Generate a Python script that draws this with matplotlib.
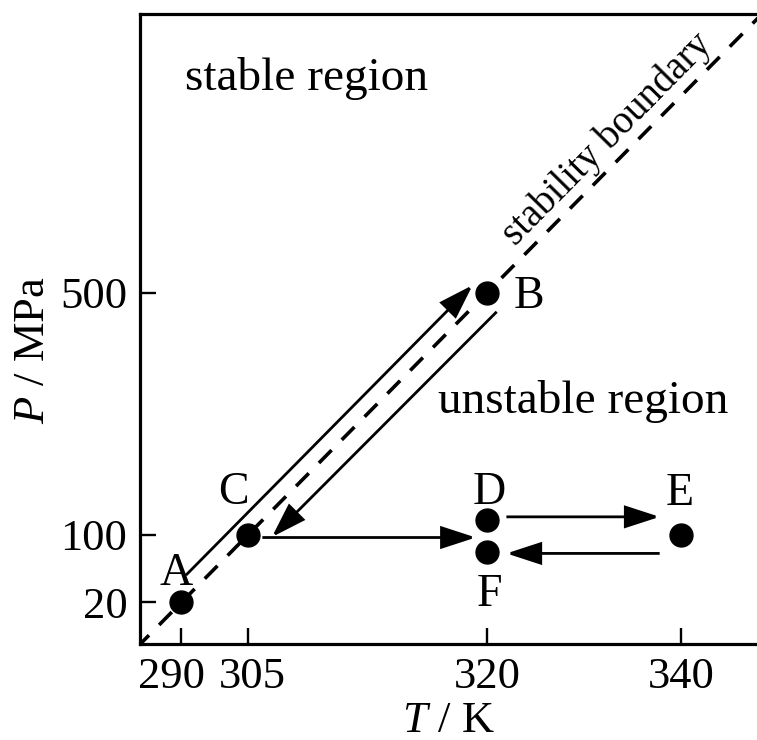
import numpy as np
import matplotlib
matplotlib.use("Agg")
import matplotlib.pyplot as plt
import matplotlib.transforms as mtransforms
from matplotlib.patches import FancyArrowPatch, ArrowStyle

plt.rcParams['font.family'] = ['Liberation Serif', 'DejaVu Serif']
plt.rcParams['mathtext.fontset'] = 'custom'
plt.rcParams['mathtext.rm'] = 'Liberation Serif'
plt.rcParams['mathtext.it'] = 'Liberation Serif:italic'

# ---------------- data ----------------
point_labels = ['A', 'B', 'C', 'D', 'E', 'F']
point_T = [290, 320, 305, 320, 340, 320]
point_P = [20, 500, 100, 125, 100, 80]

boundary_T = [280, 350]
boundary_P = [-35, 988]

arrow_from_T = [291.1, 321.0, 305.9, 322.0, 337.8]
arrow_from_P = [52, 469, 97, 130, 78]
arrow_to_T = [319.1, 306.5, 319.3, 337.8, 322.0]
arrow_to_P = [513, 97.6, 97, 130, 78]

x_ticks = [290, 305, 320, 340]
x_tick_labels = ['290', '305', '320', '340']
y_ticks = [20, 100, 500]
y_tick_labels = ['20', '100', '500']

# ---------------- schematic (non-linear) axis scales ----------------
T_knots = np.array([280, 290, 305, 320, 340, 350], dtype=float)
T_pos = np.array([136.3, 181, 248, 487, 681, 778], dtype=float)
P_knots = np.array([-40, 20, 100, 500, 1000], dtype=float)
P_pos = np.array([87.75, 138, 205, 447, 749.5], dtype=float)

def fx(v):
    return np.interp(v, T_knots, T_pos)
def ix(v):
    return np.interp(v, T_pos, T_knots)
def fy(v):
    return np.interp(v, P_knots, P_pos)
def iy(v):
    return np.interp(v, P_pos, P_knots)

W, H = 757, 740
fig = plt.figure(figsize=(W / 100, H / 100), dpi=100)
ax_left, ax_right, ax_bottom, ax_top = 140, 757, 96, 726
ax = fig.add_axes([ax_left / W, ax_bottom / H, (ax_right - ax_left) / W, (ax_top - ax_bottom) / H])
ax.set_xscale('function', functions=(fx, ix))
ax.set_yscale('function', functions=(fy, iy))
ax.set_xlim(float(ix(ax_left)), float(ix(ax_right)))
ax.set_ylim(float(iy(ax_bottom)), float(iy(ax_top)))

# boundary
ax.plot(boundary_T, boundary_P, color='black', lw=2.6, dashes=(5.0, 4.0),
        dash_capstyle='butt', solid_capstyle='butt')

# points
ax.plot(point_T, point_P, 'o', color='black', markersize=16.5, zorder=5)

# point labels
label_offsets = {'A': (-3.6, 12.2), 'B': (30.2, -10.8), 'C': (-10.8, 22.3),
                 'D': (1.4, 11.5), 'E': (-0.7, 21.6), 'F': (1.4, -38.9)}
for lab, t, p in zip(point_labels, point_T, point_P):
    ax.annotate(lab, (t, p), xytext=label_offsets[lab], textcoords='offset points',
                ha='center', va='baseline', fontsize=33)

# arrows
style = ArrowStyle('-|>', head_length=21.5, head_width=7.0)
for t0, p0, t1, p1 in zip(arrow_from_T, arrow_from_P, arrow_to_T, arrow_to_P):
    arr = FancyArrowPatch((t0, p0), (t1, p1), arrowstyle=style, mutation_scale=1,
                          lw=2.0, color='black', shrinkA=0, shrinkB=0,
                          joinstyle='miter', capstyle='butt')
    ax.add_patch(arr)

# region texts
ax.text(0.0729, 0.879, 'stable region', transform=ax.transAxes, ha='left',
        va='baseline', fontsize=34)
ax.text(0.483, 0.3667, 'unstable region', transform=ax.transAxes, ha='left',
        va='baseline', fontsize=34)
ax.text(0.757, 0.8016, 'stability boundary', transform=ax.transAxes, ha='center',
        va='center', fontsize=28, rotation=45.5, rotation_mode='anchor')

# axes styling
ax.spines['right'].set_visible(False)
for s in ['left', 'bottom', 'top']:
    ax.spines[s].set_linewidth(2.3)
ax.set_xticks(x_ticks)
ax.set_xticklabels(x_tick_labels)
ax.set_yticks(y_ticks)
ax.set_yticklabels(y_tick_labels)
ax.minorticks_off()
ax.tick_params(axis='both', direction='in', length=11.5, width=1.7, labelsize=32, pad=9,
               top=False, right=False)

# nudge the two crowded x tick labels apart as in the original figure
xshift = {'290': -6.5 / 72, '305': 3.0 / 72}
for lbl in ax.get_xticklabels():
    txt = lbl.get_text()
    if txt in xshift:
        lbl.set_transform(lbl.get_transform() +
                          mtransforms.ScaledTranslation(xshift[txt], 0, fig.dpi_scale_trans))

ax.set_xlabel(r'$\mathit{T}$ / K', fontsize=32, va='baseline')
ax.set_ylabel(r'$\mathit{P}$ / MPa', fontsize=32)
ax.xaxis.set_label_coords(0.5, ((H - 732) - ax_bottom) / (ax_top - ax_bottom))
ax.yaxis.set_label_coords(-0.1418, 0.4667)

fig.savefig('out.png', dpi=100)
